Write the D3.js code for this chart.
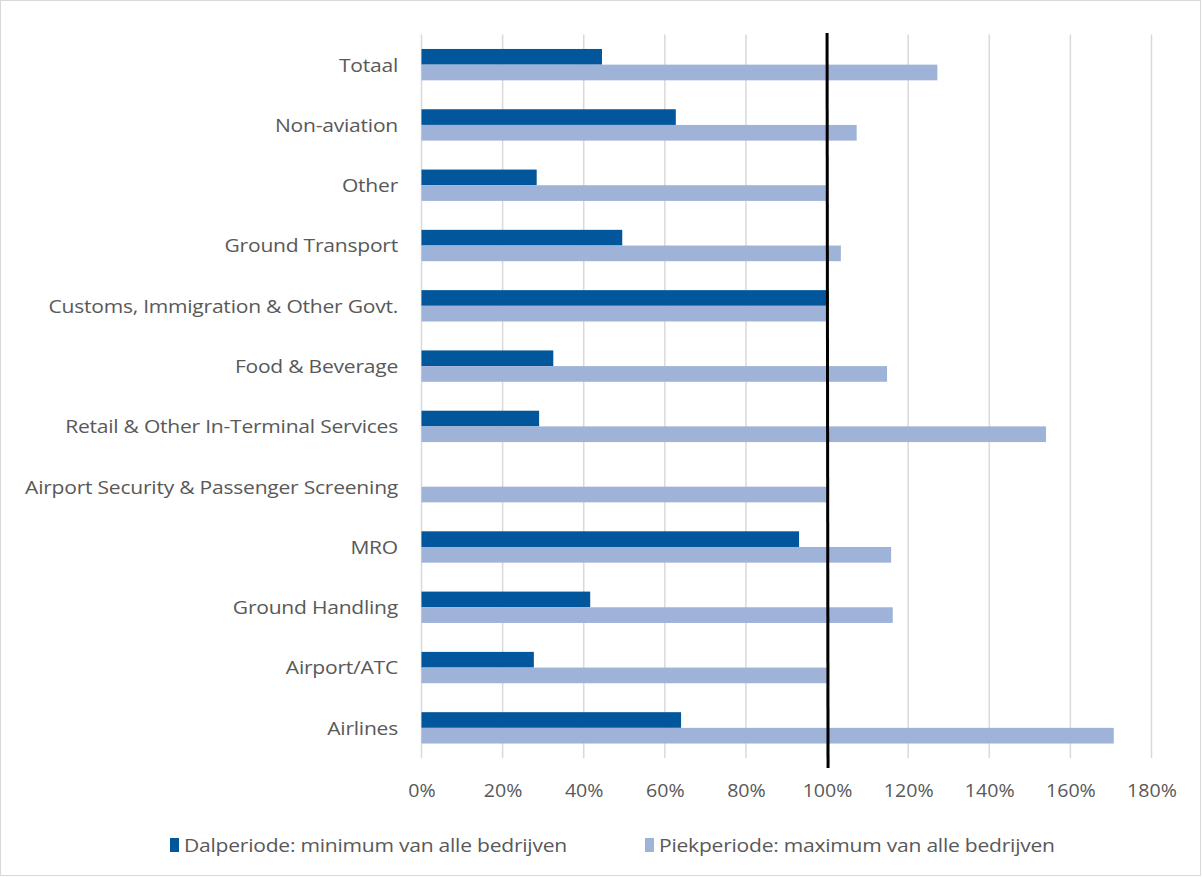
<!DOCTYPE html>
<html>
<head>
<meta charset="utf-8">
<script src="https://cdn.jsdelivr.net/npm/d3@7"></script>
<style>
  html, body { margin: 0; padding: 0; background: #fff; }
  svg { display: block; }
  text { font-family: "Open Sans", "Noto Sans", sans-serif; fill: #595959; }
</style>
</head>
<body>
<svg id="chart" width="1202" height="877"></svg>
<script>
// Sectors, top to bottom
const categories = [
  "Totaal",
  "Non-aviation",
  "Other",
  "Ground Transport",
  "Customs, Immigration & Other Govt.",
  "Food & Beverage",
  "Retail & Other In-Terminal Services",
  "Airport Security & Passenger Screening",
  "MRO",
  "Ground Handling",
  "Airport/ATC",
  "Airlines"
];

// Off-peak period: minimum over all companies (%)
const dalperiode = [44.5, 62.7, 28.4, 49.5, 100, 32.5, 29.0, 0, 93.1, 41.6, 27.7, 64.0];
// Peak period: maximum over all companies (%)
const piekperiode = [127.2, 107.3, 99.7, 103.4, 100, 114.8, 154.0, 100, 115.8, 116.2, 100.2, 170.7];

const seriesNames = [
  "Dalperiode: minimum van alle bedrijven",
  "Piekperiode: maximum van alle bedrijven"
];

const xTicks = [0, 20, 40, 60, 80, 100, 120, 140, 160, 180];
const referenceValue = 100;

const colors = ["#02569b", "#9fb2d8"];

const svg = d3.select("#chart");
const W = 1202, H = 877;
const TEXT_STRETCH = 1.17;   // wide, light label face

// outer chart frame
svg.append("rect")
  .attr("x", 0.5).attr("y", 0.5)
  .attr("width", W - 2).attr("height", H - 2)
  .attr("fill", "#fff").attr("stroke", "#d9d9d9").attr("stroke-width", 1);

const plot = { left: 421.5, right: 1151.5, top: 34.5, bottom: 758 };

const x = d3.scaleLinear().domain([0, 180]).range([plot.left, plot.right]);
const y = d3.scaleBand().domain(categories).range([plot.top, plot.bottom]).paddingInner(0.48).paddingOuter(0.24);
const sub = d3.scaleBand().domain([0, 1]).range([0, y.bandwidth()]);

// vertical gridlines
svg.append("g")
  .selectAll("line")
  .data(xTicks)
  .join("line")
  .attr("x1", d => x(d)).attr("x2", d => x(d))
  .attr("y1", plot.top).attr("y2", plot.bottom)
  .attr("stroke", "#d9d9d9").attr("stroke-width", 1.5);

// bars
const rows = categories.map((c, i) => ({ c, vals: [dalperiode[i], piekperiode[i]] }));
const g = svg.append("g");
rows.forEach(r => {
  r.vals.forEach((v, k) => {
    if (v <= 0) return;
    g.append("rect")
      .attr("x", x(0))
      .attr("y", y(r.c) + sub(k))
      .attr("width", x(v) - x(0))
      .attr("height", sub.bandwidth())
      .attr("fill", colors[k]);
  });
});

// 100% reference line
svg.append("line")
  .attr("x1", x(referenceValue)).attr("x2", x(referenceValue) + 1)
  .attr("y1", 33).attr("y2", 768)
  .attr("stroke", "#000").attr("stroke-width", 3);

// category labels
svg.append("g")
  .selectAll("g")
  .data(categories)
  .join("g")
  .attr("transform", d => `translate(398, ${y(d) + y.bandwidth() / 2}) scale(${TEXT_STRETCH}, 1)`)
  .append("text")
  .attr("text-anchor", "end")
  .attr("dominant-baseline", "central")
  .attr("font-size", 18)
  .attr("letter-spacing", -0.2)
  .text(d => d);

// x axis
const xAxis = d3.axisBottom(x).tickValues(xTicks).tickFormat(d => d + "%").tickSize(0).tickPadding(0);
const ax = svg.append("g").attr("transform", `translate(0, 790)`).call(xAxis);
ax.select(".domain").remove();
ax.selectAll("text")
  .attr("dy", null)
  .attr("dominant-baseline", "central")
  .attr("font-size", 18)
  .attr("fill", "#595959")
  .attr("transform", "scale(1.09, 1)")
  .style("font-family", "'Open Sans', 'Noto Sans', sans-serif");

// legend
const legendX = [170, 645];
const lg = svg.append("g");
seriesNames.forEach((name, k) => {
  lg.append("rect")
    .attr("x", legendX[k]).attr("y", 838)
    .attr("width", 9).attr("height", 14)
    .attr("fill", colors[k]);
  lg.append("g")
    .attr("transform", `translate(${legendX[k] + 14}, 845) scale(${TEXT_STRETCH}, 1)`)
    .append("text")
    .attr("dominant-baseline", "central")
    .attr("font-size", 18)
    .attr("letter-spacing", -0.2)
    .text(name);
});
</script>
</body>
</html>
